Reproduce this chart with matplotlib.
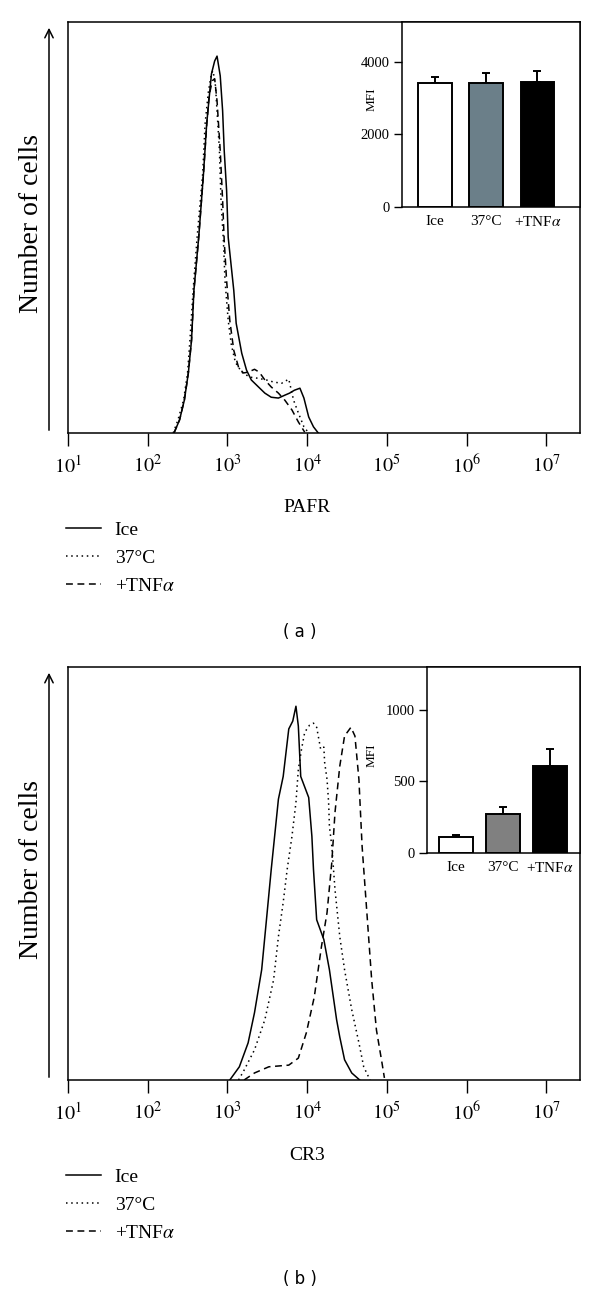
import matplotlib
matplotlib.use("Agg")
import matplotlib.pyplot as plt
import numpy as np
from matplotlib.patches import FancyArrowPatch

plt.rcParams['font.family'] = ['Liberation Serif', 'DejaVu Serif']
plt.rcParams['mathtext.fontset'] = 'stix'

# ---- data: histograms (log10 intensity, relative cell counts) ----
pafr_ice_log = [2.33, 2.40, 2.46, 2.51, 2.55, 2.58, 2.64, 2.70, 2.74, 2.80, 2.84, 2.87, 2.91, 2.94,
                2.96, 2.99, 3.01, 3.08, 3.11, 3.18, 3.24, 3.30, 3.39, 3.47, 3.55, 3.64, 3.72, 3.78,
                3.84, 3.91, 3.96, 4.02, 4.08, 4.14]
pafr_ice_cnt = [0, 3.2, 8.0, 14.6, 22.6, 34.7, 47.6, 63.1, 75.2, 87.4, 90.5, 91.7, 86.9, 78.4,
                68.7, 59.0, 47.6, 34.7, 26.7, 19.4, 15.3, 12.9, 11.2, 9.7, 8.7, 8.5, 9.2, 9.7,
                10.4, 10.9, 8.5, 3.9, 1.5, 0]
pafr_37_log = [2.32, 2.38, 2.45, 2.50, 2.53, 2.57, 2.62, 2.69, 2.72, 2.76, 2.80, 2.82, 2.85, 2.87,
               2.90, 2.92, 2.95, 2.97, 3.01, 3.05, 3.10, 3.18, 3.28, 3.39, 3.49, 3.58, 3.68, 3.77,
               3.83, 3.89, 3.96, 4.02]
pafr_37_cnt = [0, 3.2, 8.0, 14.6, 22.6, 34.7, 47.6, 63.1, 75.2, 82.8, 87.6, 88.1, 84.5, 78.4,
               68.7, 56.6, 46.8, 37.1, 27.4, 21.4, 17.2, 14.8, 13.6, 13.3, 12.9, 12.4, 12.1, 13.1,
               8.0, 4.9, 1.5, 0]
pafr_tnf_log = [2.33, 2.40, 2.46, 2.51, 2.55, 2.58, 2.64, 2.70, 2.74, 2.77, 2.81, 2.84, 2.87, 2.91,
                2.94, 2.96, 2.99, 3.03, 3.08, 3.14, 3.20, 3.26, 3.34, 3.40, 3.47, 3.55, 3.64, 3.72,
                3.81, 3.89, 3.97]
pafr_tnf_cnt = [0, 3.2, 8.0, 14.6, 22.6, 34.7, 47.6, 63.1, 74.8, 82.0, 85.7, 86.2, 80.8, 68.7,
                56.6, 46.8, 37.1, 27.4, 20.1, 16.0, 14.6, 14.8, 15.5, 14.8, 12.9, 11.2, 9.7, 8.0,
                5.6, 2.7, 0.2]

cr3_ice_log = [3.03, 3.15, 3.26, 3.34, 3.43, 3.49, 3.55, 3.64, 3.70, 3.77, 3.82, 3.86, 3.89, 3.92,
               4.02, 4.06, 4.08, 4.12, 4.21, 4.28, 4.37, 4.41, 4.47, 4.56, 4.66]
cr3_ice_cnt = [0, 3.2, 9.0, 16.3, 26.7, 38.8, 51.0, 68.0, 73.5, 85.0, 86.9, 90.5, 85.7, 73.5,
               68.4, 59.0, 51.0, 38.8, 34.0, 26.7, 14.6, 10.4, 4.9, 1.7, 0]
cr3_37_log = [3.14, 3.21, 3.34, 3.47, 3.58, 3.64, 3.70, 3.75, 3.81, 3.86, 3.89, 3.93, 3.97, 4.03,
              4.08, 4.12, 4.14, 4.17, 4.21, 4.22, 4.25, 4.27, 4.28, 4.31, 4.35, 4.41, 4.47, 4.56,
              4.65, 4.71, 4.79]
cr3_37_cnt = [0, 2.4, 7.3, 14.6, 24.3, 34.7, 43.0, 51.0, 59.0, 67.2, 75.2, 80.1, 84.2, 85.9,
              86.4, 85.4, 83.3, 80.1, 80.6, 76.9, 72.8, 67.2, 61.4, 56.6, 46.1, 34.7, 26.7, 17.0,
              9.0, 3.2, 0]
cr3_tnf_log = [3.21, 3.34, 3.52, 3.77, 3.89, 3.99, 4.09, 4.18, 4.25, 4.31, 4.35, 4.41, 4.47, 4.55,
               4.60, 4.65, 4.69, 4.75, 4.81, 4.87, 4.94, 4.97]
cr3_tnf_cnt = [0, 1.7, 3.2, 3.6, 5.3, 11.4, 20.1, 32.3, 40.5, 52.7, 64.8, 76.0, 83.3, 85.4,
               83.3, 72.8, 56.6, 40.5, 24.3, 12.1, 4.1, 0.5]

# ---- data: MFI bar insets ----
groups = ['Ice', '37°C', '+TNF$\\alpha$']
pafr_mfi = [3410, 3410, 3455]
pafr_err = [185, 280, 295]
cr3_mfi = [115, 273, 608]
cr3_err = [12, 49, 119]

W, H = 600, 1293
def fx(x):
    return x / W
def fy(y):
    return 1 - y / H

fig = plt.figure(figsize=(6, 12.93), dpi=100)


def panel(top, bottom, inset_left, inset_bottom, curves, xlab, tag,
          mfi, err, ylim, yticks, bar_xlim, bar_w, mid_color, mfi_y):
    ax = fig.add_axes([fx(68), fy(bottom), (580 - 68) / W, (bottom - top) / H])
    styles = [None, (0, (1, 2.4)), (0, (4.5, 3))]
    labels = ['Ice', '37°C', '+TNF$\\alpha$']
    for (lg, ct), dash, lab in zip(curves, styles, labels):
        line, = ax.plot(10 ** np.array(lg), ct, color='black', lw=1.1, label=lab)
        if dash is not None:
            line.set_linestyle(dash)
    ax.set_xscale('log')
    ax.set_xlim(10, 10 ** 7.424)
    ax.set_ylim(0, 100)
    ax.set_xticks([10 ** k for k in range(1, 8)])
    ax.set_xticklabels(['$10^{%d}$' % k for k in range(1, 8)], fontsize=14.5)
    ax.xaxis.set_minor_locator(matplotlib.ticker.NullLocator())
    ax.tick_params(axis='x', direction='out', length=9, width=1, pad=7)
    ax.set_yticks([])
    for s in ax.spines.values():
        s.set_linewidth(1.1)

    fig.text(fx(307), fy(bottom + 75), xlab, fontsize=14, ha='center', va='center')
    fig.text(fx(300), fy(bottom + 199), tag, fontsize=12, ha='center', va='center',
             family='DejaVu Sans')

    # arrow + y label
    arr = FancyArrowPatch((fx(49), fy(bottom)), (fx(49), fy(top + 3)),
                          transform=fig.transFigure, arrowstyle='->,head_length=6,head_width=3',
                          color='black', lw=1.1)
    fig.add_artist(arr)
    fig.text(fx(32), fy((top + bottom) / 2 - 4), 'Number of cells', rotation=90,
             fontsize=20, ha='center', va='center')

    ax.legend(loc='upper left', bbox_to_anchor=(fx(66), fy(bottom + 88)),
              bbox_transform=fig.transFigure, frameon=False, fontsize=14,
              handlelength=1.8, handletextpad=0.7, labelspacing=0.55,
              borderpad=0, borderaxespad=0)

    # inset bars
    ia = fig.add_axes([fx(inset_left), fy(inset_bottom), (580 - inset_left) / W,
                       (inset_bottom - top) / H])
    x = np.arange(len(groups))
    ia.bar(x, mfi, width=bar_w, color=['white', mid_color, 'black'],
           edgecolor='black', linewidth=1.4, zorder=2)
    ia.errorbar(x, mfi, yerr=[[0, 0, 0], err], fmt='none', ecolor='black',
                elinewidth=1.4, capsize=3, capthick=1.4, zorder=1)
    ia.set_xlim(*bar_xlim)
    ia.set_ylim(*ylim)
    ia.set_yticks(yticks)
    ia.set_yticklabels([str(v) for v in yticks], fontsize=10.5)
    ia.set_xticks(x)
    ia.set_xticklabels(groups, fontsize=11)
    ia.tick_params(axis='x', length=0, pad=6)
    ia.tick_params(axis='y', direction='out', length=6, width=1, pad=3)
    fig.text(fx(372), fy(mfi_y), 'MFI', rotation=90, fontsize=9.5,
             ha='center', va='center')
    for s in ia.spines.values():
        s.set_linewidth(1.1)
    return ax, ia


panel(22, 433, 402, 207,
      [(pafr_ice_log, pafr_ice_cnt), (pafr_37_log, pafr_37_cnt), (pafr_tnf_log, pafr_tnf_cnt)],
      'PAFR', '( a )', pafr_mfi, pafr_err, (0, 5100), [0, 2000, 4000],
      (-0.64, 2.83), 0.65, '#6b7f89', 99)
panel(667, 1080, 427, 853,
      [(cr3_ice_log, cr3_ice_cnt), (cr3_37_log, cr3_37_cnt), (cr3_tnf_log, cr3_tnf_cnt)],
      'CR3', '( b )', cr3_mfi, cr3_err, (0, 1300), [0, 500, 1000],
      (-0.62, 2.64), 0.72, '#808080', 755)

fig.savefig('out.png', dpi=100)
